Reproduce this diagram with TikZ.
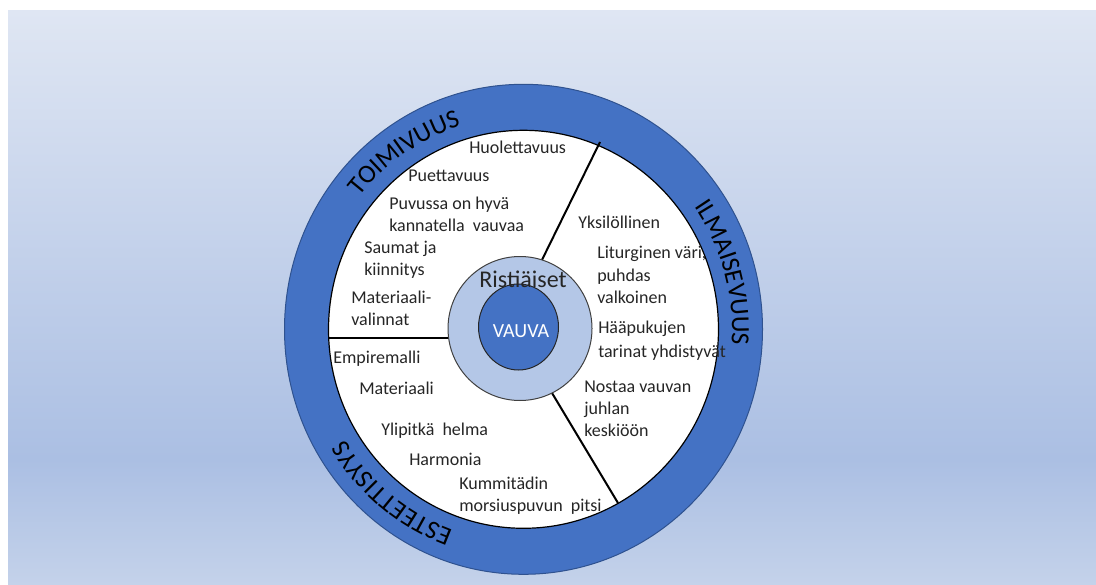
\documentclass[tikz,border=0pt]{standalone}
\usepackage{fontspec}
\setmainfont{Carlito}
\usetikzlibrary{decorations.text}
\definecolor{ringblue}{HTML}{4472C4}
\definecolor{ringline}{HTML}{2F528F}
\definecolor{midblue}{HTML}{B4C7E7}
\definecolor{txt}{HTML}{262626}
\definecolor{bgtop}{HTML}{DFE6F3}
\definecolor{bgmid}{HTML}{ABBFE3}
\definecolor{bgbot}{HTML}{C4D2EA}
\pgfdeclareverticalshading{bgshade}{100bp}{color(0bp)=(bgbot); color(25bp)=(bgbot); color(36bp)=(bgmid); color(75bp)=(bgtop); color(100bp)=(bgtop)}
\newcommand\ringfnt{\fontsize{19.5pt}{20pt}\selectfont}
\tikzset{
  item/.style={anchor=base west, inner sep=0pt, text=txt, font=\fontsize{13.5pt}{16pt}\selectfont},
  divider/.style={draw=black, line width=1.5pt},
  ringlabel/.style={decorate, decoration={text along path, text align=center, text={|\ringfnt|#1}}}
}
\begin{document}
\begin{tikzpicture}[x=0.75pt, y=0.75pt]
\useasboundingbox (0,0) rectangle (1096,-585);
\fill[white] (0,0) rectangle (1096,-585);
\shade[shading=bgshade] (8,-11) rectangle (1096,-585);

\coordinate (C) at (523.5,-329.3);
% outer ring and inner white area
\draw[draw=ringline, line width=0.75pt, fill=ringblue] (C) ellipse [x radius=239, y radius=245];
\draw[draw=black, line width=0.9pt, fill=white] (C) ellipse [x radius=195, y radius=199];

% dividers
\coordinate (a1) at (328,-338); \coordinate (a2) at (460,-338);
\coordinate (b1) at (600,-142); \coordinate (b2) at (538,-268);
\coordinate (c1) at (546,-383); \coordinate (c2) at (618,-503);
\draw[divider] (a1) -- (a2);
\draw[divider] (b1) -- (b2);
\draw[divider] (c2) -- (c1);

% centre circles
\coordinate (M) at (520,-328.5);
\draw[draw=black!75, line width=0.75pt, fill=midblue] (M) circle [radius=72];
\coordinate (V) at (518.5,-327);
\draw[draw=black!85, line width=0.75pt, fill=ringblue] (V) ellipse [x radius=40, y radius=43];
\node (risti) [anchor=base, inner sep=0pt, text=txt, font=\fontsize{18pt}{20pt}\selectfont] at (523,-287) {Ristiäiset};
\node (vauva) [anchor=base, inner sep=0pt, text=white, font=\fontsize{15pt}{18pt}\selectfont] at (521,-337) {VAUVA};

% ring labels
\path[ringlabel=TOIMIVUUS] (C) ++(150:208.5 and 213.5) arc [start angle=150, end angle=99, x radius=208.5, y radius=213.5];
\path[ringlabel=ILMAISEVUUS] (C) ++(45:208.5 and 213.5) arc [start angle=45, end angle=-14, x radius=208.5, y radius=213.5];
\path[ringlabel=ESTEETTISYYS] (C) ++(256:208.5 and 213.5) arc [start angle=256, end angle=205.5, x radius=208.5, y radius=213.5];

% TOIMIVUUS sector
\node[item] (t1) at (469,-153) {Huolettavuus};
\node[item] (t2) at (408,-181) {Puettavuus};
\node[item] (t3) at (389,-209) {Puvussa on hyvä};
\node[item] (t4) at (389,-231) {kannatella~ vauvaa};
\node[item] (t5) at (364,-253) {Saumat ja};
\node[item] (t6) at (364,-275) {kiinnitys};
\node[item] (t7) at (351,-303) {Materiaali-};
\node[item] (t8) at (351,-325) {valinnat};

% ILMAISEVUUS sector
\node[item] (i1) at (578,-228) {Yksilöllinen};
\node[item] (i2) at (597,-258) {Liturginen väri,};
\node[item] (i3) at (597,-281) {puhdas};
\node[item] (i4) at (597,-303) {valkoinen};
\node[item] (i5) at (598,-333) {Hääpukujen};
\node[item] (i6) at (598,-357) {tarinat yhdistyvät};
\node[item] (i7) at (584,-392) {Nostaa vauvan};
\node[item] (i8) at (584,-414) {juhlan};
\node[item] (i9) at (584,-436) {keskiöön};

% ESTEETTISYYS sector
\node[item] (e1) at (333,-363) {Empiremalli};
\node[item] (e2) at (359,-394) {Materiaali};
\node[item] (e3) at (381,-435) {Ylipitkä~ helma};
\node[item] (e4) at (409,-465) {Harmonia};
\node[item] (e5) at (459,-489) {Kummitädin};
\node[item] (e6) at (459,-511) {morsiuspuvun~ pitsi};
\end{tikzpicture}
\end{document}
